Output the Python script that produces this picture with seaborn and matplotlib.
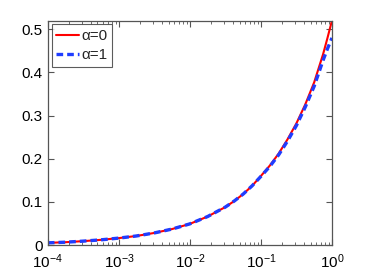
import numpy as np
import pandas as pd
import matplotlib
matplotlib.use('Agg')
import matplotlib.pyplot as plt
import seaborn as sns

# values (x on a log axis, given as log10 positions)
log_x = [-4, -3.75, -3.5, -3.25, -3, -2.75, -2.5, -2.25, -2, -1.75,
         -1.5, -1.375, -1.25, -1.125, -1, -0.875, -0.75, -0.625,
         -0.5, -0.375, -0.25, -0.125, -0.0625, 0]
alpha0 = [0.005, 0.0065, 0.009, 0.012, 0.016, 0.021, 0.028, 0.037, 0.049, 0.066,
          0.088, 0.102, 0.118, 0.137, 0.160, 0.184, 0.212, 0.245,
          0.282, 0.326, 0.377, 0.442, 0.480, 0.52]
alpha1 = [0.005, 0.0065, 0.009, 0.012, 0.016, 0.021, 0.028, 0.037, 0.049, 0.066,
          0.088, 0.102, 0.118, 0.137, 0.159, 0.182, 0.209, 0.241,
          0.277, 0.320, 0.368, 0.428, 0.455, 0.48]
labels = ['\u03b1=0', '\u03b1=1']

x_vals = [10.0 ** v for v in log_x]
df = pd.DataFrame({
    'x': x_vals * 2,
    'y': alpha0 + alpha1,
    'series': [labels[0]] * len(x_vals) + [labels[1]] * len(x_vals),
})

sns.set_style('ticks')
plt.rcParams['font.family'] = ['Liberation Sans', 'DejaVu Sans']
plt.rcParams['mathtext.fontset'] = 'custom'
plt.rcParams['mathtext.rm'] = 'Liberation Sans'

fig = plt.figure(figsize=(3.68, 2.77), dpi=100)
ax = fig.add_axes([0.130, 0.1155, 0.772, 0.81])

sns.lineplot(data=df, x='x', y='y', hue='series', style='series',
             palette={labels[0]: '#ff0000', labels[1]: '#1f3dff'},
             dashes={labels[0]: '', labels[1]: (2, 1.2)},
             ax=ax)
for line, lw in zip(ax.get_lines(), [1.5, 2.4]):
    line.set_linewidth(lw)

ax.set_xscale('log')
ax.set_xlim(1e-4, 1)
ax.set_ylim(0, 0.52)
ax.set_xticks([1e-4, 1e-3, 1e-2, 1e-1, 1])
ax.set_yticks([0, 0.1, 0.2, 0.3, 0.4, 0.5])
ax.set_yticklabels(['0', '0.1', '0.2', '0.3', '0.4', '0.5'])
ax.set_xlabel('')
ax.set_ylabel('')

for s in ax.spines.values():
    s.set_visible(True)
    s.set_color('#555555')
    s.set_linewidth(0.9)
ax.tick_params(which='both', direction='in', top=True, right=True,
               colors='#555555', labelcolor='black', labelsize=11)
ax.tick_params(which='major', length=4)
ax.tick_params(which='minor', length=2)
ax.tick_params(axis='x', pad=5)

leg = ax.legend(loc='upper left', fontsize=11, frameon=True, fancybox=False,
                edgecolor='#333333', handlelength=1.5, handletextpad=0.15,
                borderpad=0.3, labelspacing=0.35, borderaxespad=0.25)
leg.get_frame().set_linewidth(0.8)
for h, lw in zip(leg.get_lines(), [1.5, 2.4]):
    h.set_linewidth(lw)

fig.savefig('out.png', dpi=100)
